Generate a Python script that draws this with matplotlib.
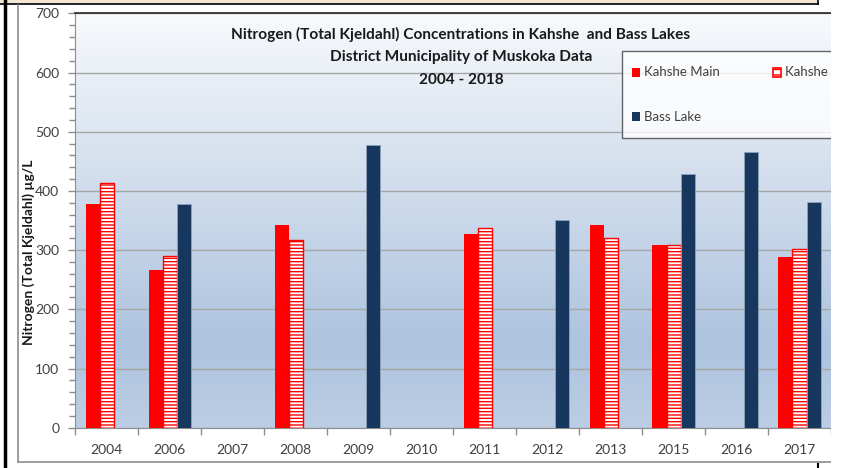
import numpy as np
import matplotlib
matplotlib.use("Agg")
import matplotlib.pyplot as plt
from matplotlib.colors import LinearSegmentedColormap
from matplotlib.patches import Patch, Rectangle
from matplotlib.lines import Line2D
from matplotlib.legend_handler import HandlerPatch

plt.rcParams['font.family'] = ['Lato', 'DejaVu Sans']
plt.rcParams['hatch.linewidth'] = 1.0

# ---- data ----
years = ["2004", "2006", "2007", "2008", "2009", "2010", "2011", "2012",
         "2013", "2015", "2016", "2017"]
kahshe_main = [378, 267, None, 342, None, None, 328, None, 342, 309, None, 288]
kahshe_g = [413, 290, None, 317, None, None, 338, None, 320, 308, None, 302]
bass_lake = [None, 378, None, None, 478, None, None, 351, None, 428, 466, 382]
series_names = ["Kahshe Main", "Kahshe Grants Bay", "Bass Lake"]
title_lines = ["Nitrogen (Total Kjeldahl) Concentrations in Kahshe  and Bass Lakes",
               "District Municipality of Muskoka Data",
               "2004 - 2018"]
ylabel = "Nitrogen (Total Kjeldahl) \u00b5g/L"

W, H = 846, 468
fig = plt.figure(figsize=(W / 100, H / 100), dpi=100)
fig.patch.set_facecolor("white")

def fx(px):
    return px / W

def fy(py):
    return 1 - py / H

# outer screenshot decorations
fig.patches.append(Rectangle((fx(0), fy(3)), fx(818), 3 / H, transform=fig.transFigure,
                             facecolor="#f6e7d5", edgecolor="none", zorder=-5))
fig.lines.append(Line2D([fx(0), fx(818)], [fy(3.5), fy(3.5)], transform=fig.transFigure,
                        color="black", lw=1.2, zorder=-4))
fig.lines.append(Line2D([fx(818), fx(818)], [fy(0), fy(3.5)], transform=fig.transFigure,
                        color="black", lw=1.2, zorder=-4))
fig.lines.append(Line2D([fx(5), fx(5)], [fy(0), fy(468)], transform=fig.transFigure,
                        color="black", lw=2.5, zorder=-4))
# chart area frame
fig.lines.append(Line2D([fx(17.5), fx(17.5)], [fy(5), fy(461.5)], transform=fig.transFigure,
                        color="#8c8c8c", lw=1.2, zorder=-4))
fig.lines.append(Line2D([fx(17.5), fx(831)], [fy(461.5), fy(461.5)], transform=fig.transFigure,
                        color="#8c8c8c", lw=1.2, zorder=-4))
fig.lines.append(Line2D([fx(818), fx(818)], [fy(464), fy(468)], transform=fig.transFigure,
                        color="black", lw=1.5, zorder=-4))

ax = fig.add_axes([fx(75.3), fy(427.7), fx(831) - fx(75.3), fy(13.3) - fy(427.7)])

# gradient background
cmap = LinearSegmentedColormap.from_list(
    "bg", [(0.0, "#bccee5"), (0.2, "#adc3de"), (0.45, "#c4d4e8"),
           (0.75, "#e0e8f2"), (1.0, "#f8fafd")])
grad = np.linspace(0, 1, 256).reshape(-1, 1)
ax.imshow(grad, cmap=cmap, origin="lower", extent=[0, 1, 0, 1],
          transform=ax.transAxes, aspect="auto", zorder=0)
ax.patch.set_visible(False)

x = np.arange(len(years))
w = 0.223

def vals(lst):
    return np.array([np.nan if v is None else v for v in lst], dtype=float)

ax.bar(x - w, vals(kahshe_main), w, color="#ff0000", edgecolor="none", zorder=3)
ax.bar(x, vals(kahshe_g), w, facecolor="white", edgecolor="#ff0000", hatch="-----",
       linewidth=1.0, zorder=3)
ax.bar(x + w, vals(bass_lake), w, color="#17375e", edgecolor="#8fa3bb", linewidth=0.6, zorder=3)

ax.set_ylim(0, 700)
ax.set_xlim(-0.5, 11.34)
ax.set_yticks(np.arange(0, 701, 100))
ax.set_yticks(np.arange(0, 701, 20), minor=True)
ax.yaxis.grid(True, color="#a6a6a6", lw=1.0, zorder=1)
ax.set_axisbelow(True)
ax.tick_params(axis="y", which="major", length=5, width=1, color="#8c8c8c",
               labelsize=10, labelcolor="#404040", pad=6.5)
ax.tick_params(axis="y", which="minor", length=4, width=1, color="#8c8c8c")

ax.set_xticks(np.arange(-0.5, 11.6, 1), minor=True)
ax.set_xticks(x)
ax.set_xticklabels(years)
ax.tick_params(axis="x", which="major", length=0, labelsize=10, labelcolor="#404040", pad=12)
ax.tick_params(axis="x", which="minor", length=5, width=1, color="#8c8c8c")

ax.spines["right"].set_visible(False)
ax.spines["top"].set_color("#262626")
ax.spines["top"].set_linewidth(1.2)
ax.spines["left"].set_color("#8c8c8c")
ax.spines["bottom"].set_color("#8c8c8c")

# title inside plot area
for i, line in enumerate(title_lines):
    fig.text(fx(461), fy(34 + 23 * i), line, ha="center", va="center",
             fontsize=11.1, fontweight="bold", color="#1a1a1a")

fig.text(fx(29), fy(252), ylabel, rotation=90, ha="center", va="center",
         fontsize=10, fontweight="bold", color="#1a1a1a")


def make_square(legend, orig_handle, xdescent, ydescent, width, height, fontsize):
    sw, sh = 5.8, 6.4  # points
    return Rectangle((width - sw - xdescent, (height - sh) / 2 - ydescent), sw, sh)


handles = [Patch(facecolor="#ff0000", edgecolor="none"),
           Patch(facecolor="#17375e", edgecolor="none"),
           Patch(facecolor="white", edgecolor="#ff0000", hatch="---", linewidth=1.2)]
labels = [series_names[0], series_names[2], series_names[1]]
hm = {h: HandlerPatch(patch_func=make_square) for h in handles}
leg = ax.legend(handles, labels, ncol=2, loc="upper left", handler_map=hm,
                bbox_to_anchor=(fx(622), fy(51)), bbox_transform=fig.transFigure,
                borderaxespad=0, frameon=True, fancybox=False, fontsize=9.5,
                handlelength=0.75, handleheight=2.8, handletextpad=0.3,
                labelspacing=1.3, columnspacing=3.9, borderpad=0.6)
leg.get_frame().set_edgecolor("#404040")
leg.get_frame().set_linewidth(1.0)
for t in leg.get_texts():
    t.set_color("#404040")

# cover cropped region at right edge
fig.patches.append(Rectangle((fx(831), 0), 1 - fx(831), fy(4), transform=fig.transFigure,
                             facecolor="white", edgecolor="none", zorder=10))

fig.savefig("out.png", dpi=100)
